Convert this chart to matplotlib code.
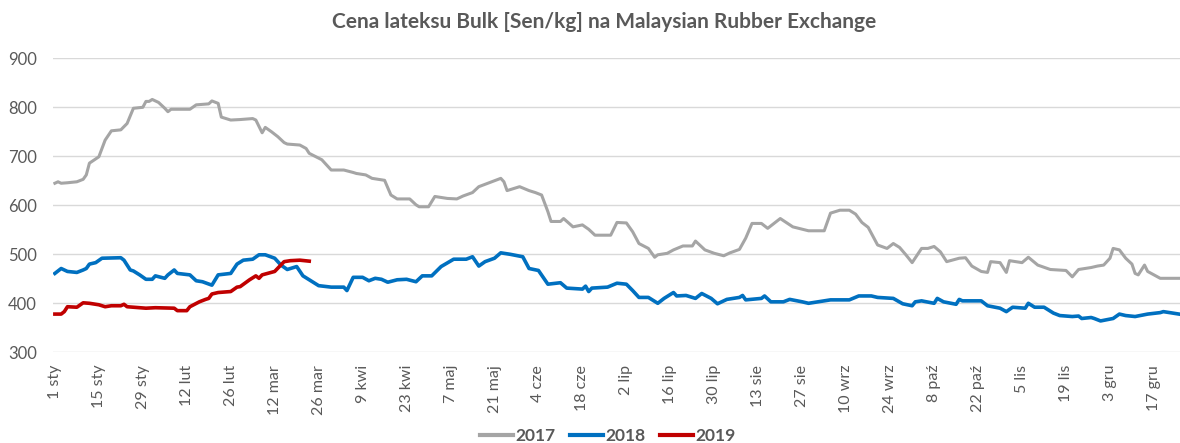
import matplotlib
matplotlib.use("Agg")
import matplotlib.pyplot as plt

plt.rcParams['font.family'] = ['Lato', 'DejaVu Sans']

# day of year (0 = 1 sty) and price in Sen/kg
days_2017 = [0, 1, 2, 4, 7, 9, 10, 11, 14, 16, 18, 21, 23, 25, 28, 29, 30, 31, 33, 35, 36, 37, 43, 45, 49, 50,
             52, 53, 56, 59, 63, 64, 66, 67, 69, 71, 73, 74, 78, 80, 81, 85, 88, 92, 95, 96, 99, 101, 105, 107,
             109, 113, 115, 116, 119, 121, 125, 128, 130, 133, 135, 142, 143, 144, 148, 151, 153, 155, 157, 158,
             161, 162, 165, 168, 170, 172, 177, 179, 182, 184, 186, 189, 191, 192, 195, 197, 200, 203, 204, 207,
             210, 213, 215, 218, 220, 222, 225, 227, 229, 231, 235, 240, 245, 247, 250, 253, 255, 257, 259, 262,
             265, 267, 269, 271, 273, 276, 278, 280, 282, 284, 288, 290, 292, 295, 297, 298, 301, 303, 304, 308,
             310, 313, 317, 322, 324, 326, 330, 332, 334, 336, 337, 339, 341, 343, 344, 345, 347, 348, 350, 352,
             358]
price_2017 = [645, 648, 645, 646, 648, 653, 662, 686, 699, 733, 752, 754, 767, 798, 800, 812, 812, 816, 810, 798,
              791, 796, 796, 805, 807, 813, 808, 780, 774, 775, 777, 774, 748, 759, 750, 740, 728, 725, 723, 716,
              706, 693, 672, 672, 667, 665, 662, 655, 651, 621, 613, 613, 601, 597, 597, 618, 614, 613, 619, 626,
              638, 655, 648, 630, 638, 630, 626, 621, 587, 567, 567, 573, 556, 560, 551, 539, 539, 565, 564, 546,
              522, 512, 494, 499, 502, 509, 517, 517, 527, 509, 502, 497, 503, 510, 533, 563, 563, 553, 563, 573,
              556, 548, 548, 584, 590, 590, 582, 565, 555, 519, 512, 522, 514, 499, 483, 512, 512, 516, 505, 485,
              492, 493, 476, 465, 463, 485, 483, 463, 487, 483, 494, 478, 469, 467, 454, 469, 473, 476, 478, 492,
              512, 509, 492, 480, 461, 458, 478, 465, 458, 451, 451]

days_2018 = [0, 2, 4, 7, 9, 10, 11, 13, 15, 21, 22, 24, 25, 27, 29, 31, 32, 35, 36, 38, 39, 43, 45, 47, 50, 52,
             56, 58, 60, 63, 65, 67, 70, 72, 74, 77, 79, 81, 84, 88, 92, 93, 95, 98, 100, 102, 104, 106, 109, 112,
             115, 117, 120, 123, 127, 131, 133, 135, 137, 140, 142, 145, 149, 151, 154, 157, 161, 163, 168, 169,
             170, 171, 176, 179, 182, 184, 186, 189, 192, 194, 197, 198, 201, 204, 206, 209, 211, 214, 218, 219,
             220, 225, 226, 228, 232, 234, 238, 240, 243, 247, 253, 256, 260, 262, 267, 270, 273, 274, 276, 280,
             281, 283, 287, 288, 289, 295, 297, 301, 303, 305, 309, 310, 312, 315, 318, 320, 324, 326, 327, 330,
             331, 333, 337, 339, 341, 344, 348, 352, 353, 358]
price_2018 = [461, 471, 465, 463, 468, 471, 480, 483, 492, 493, 488, 468, 466, 458, 449, 449, 456, 451, 458, 468,
              461, 458, 446, 444, 437, 458, 461, 480, 488, 490, 499, 499, 492, 478, 469, 475, 456, 448, 436, 433,
              433, 426, 453, 453, 446, 451, 449, 443, 448, 449, 444, 456, 456, 475, 490, 490, 495, 476, 485, 492,
              503, 500, 495, 471, 467, 439, 442, 431, 429, 435, 424, 431, 433, 441, 439, 426, 412, 412, 400, 410,
              422, 415, 416, 410, 420, 410, 399, 408, 412, 416, 407, 410, 415, 403, 403, 408, 403, 400, 403, 407,
              407, 415, 415, 412, 410, 399, 395, 403, 405, 400, 410, 403, 398, 408, 405, 405, 395, 390, 383, 392,
              390, 400, 392, 392, 380, 375, 373, 374, 369, 371, 369, 364, 369, 378, 375, 373, 378, 381, 383, 378]

days_2019 = [0, 2, 3, 4, 7, 9, 11, 14, 16, 18, 21, 22, 23, 27, 29, 32, 38, 39, 42, 43, 46, 48, 49, 50, 52, 56,
             58, 59, 62, 64, 65, 66, 70, 73, 75, 78, 81]
price_2019 = [378, 378, 383, 393, 392, 401, 400, 397, 393, 395, 395, 398, 393, 391, 390, 391, 390, 385, 385, 393,
              403, 408, 410, 419, 422, 424, 433, 434, 448, 456, 451, 458, 465, 485, 487, 488, 486]

tick_days = list(range(0, 351, 14))
tick_labels = ["1 sty", "15 sty", "29 sty", "12 lut", "26 lut", "12 mar", "26 mar", "9 kwi", "23 kwi",
               "7 maj", "21 maj", "4 cze", "18 cze", "2 lip", "16 lip", "30 lip", "13 sie", "27 sie",
               "10 wrz", "24 wrz", "8 paź", "22 paź", "5 lis", "19 lis", "3 gru", "17 gru"]
y_ticks = [300, 400, 500, 600, 700, 800, 900]

text_col = '#595959'

fig = plt.figure(figsize=(11.8, 4.43), dpi=100)
ax = fig.add_axes([53 / 1180, 1 - 352.3 / 443, 1 - 53 / 1180, (352.3 - 58.3) / 443])

ax.plot(days_2017, price_2017, color='#A5A5A5', lw=2.2, label='2017', solid_joinstyle='round')
ax.plot(days_2018, price_2018, color='#0070C0', lw=2.6, label='2018', solid_joinstyle='round')
ax.plot(days_2019, price_2019, color='#C00000', lw=2.6, label='2019', solid_joinstyle='round')

ax.set_xlim(-0.6, 358.3)
ax.set_ylim(300, 900)
ax.set_yticks(y_ticks)
ax.set_xticks(tick_days)
ax.set_xticklabels(tick_labels, rotation=90, fontsize=11.5, color=text_col)
ax.tick_params(axis='y', labelsize=12, labelcolor=text_col, length=0, pad=11.5)
ax.tick_params(axis='x', length=0, pad=9)
ax.grid(axis='y', color='#D9D9D9', lw=1)
ax.set_axisbelow(True)
for s in ax.spines.values():
    s.set_visible(False)

fig.text(0.512, 0.95, 'Cena lateksu Bulk [Sen/kg] na Malaysian Rubber Exchange',
         ha='center', va='center', fontsize=15, fontweight='bold', color=text_col)

leg = fig.legend(loc='center', bbox_to_anchor=(0.515, 0.015), ncol=3, frameon=False,
                 handlelength=1.9, columnspacing=0.85, handletextpad=0.12,
                 prop={'size': 12.5, 'weight': 'bold'})
for t in leg.get_texts():
    t.set_color(text_col)
for h in leg.get_lines():
    h.set_linewidth(3)

fig.savefig('out.png', dpi=100)
